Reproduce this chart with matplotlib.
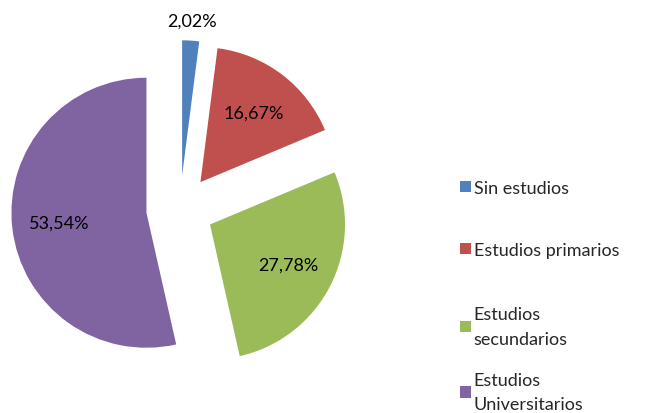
import numpy as np
import matplotlib.pyplot as plt

labels = ['Sin estudios', 'Estudios primarios', 'Estudios\nsecundarios', 'Estudios\nUniversitarios']
values = [2.02, 16.67, 27.78, 53.54]
colors = ['#4F81BD', '#C0504D', '#9BBB59', '#8064A2']

plt.rcParams['font.family'] = ['Lato', 'DejaVu Sans']

fig = plt.figure(figsize=(6.46, 4.14), dpi=100)
ax = fig.add_axes([0, 0, 1, 1])

explode = [0.25] * len(values)
wedges, texts, autotexts = ax.pie(
    values, colors=colors, explode=explode, startangle=90, counterclock=False,
    autopct='%.2f', pctdistance=0.65,
    textprops={'fontsize': 13, 'color': 'black'}, radius=1,
    wedgeprops={'linewidth': 0})
for t, v in zip(autotexts, values):
    t.set_text(('%.2f%%' % v).replace('.', ','))

# pie radius 1 == 135 px, centre at pixel (180, 210)
px = 135.0
ax.set_xlim(-180 / px, (646 - 180) / px)
ax.set_ylim(-(414 - 210) / px, 210 / px)
ax.set_aspect('equal')
ax.axis('off')

# small slice: label outside, above the wedge
w = wedges[0]
ang = np.deg2rad((w.theta1 + w.theta2) / 2)
cx, cy = w.center
autotexts[0].set_position((cx + 1.15 * np.cos(ang), cy + 1.15 * np.sin(ang)))

# legend in two parts: single-line entries and two-line entries
opts = dict(loc='upper left', bbox_transform=fig.transFigure, frameon=False, fontsize=13,
            handlelength=0.6, handleheight=0.6, handletextpad=0.15,
            borderpad=0, borderaxespad=0, labelcolor='#262626')
leg1 = ax.legend(wedges[:2], labels[:2], bbox_to_anchor=(460 / 646, 1 - 181 / 414),
                 labelspacing=2.55, **opts)
ax.add_artist(leg1)
leg2 = ax.legend(wedges[2:], labels[2:], bbox_to_anchor=(460 / 646, 1 - 307 / 414),
                 labelspacing=1.38, **opts)
for t in leg2.get_texts():
    t.set_linespacing(1.67)

fig.savefig('out.png', dpi=100)
